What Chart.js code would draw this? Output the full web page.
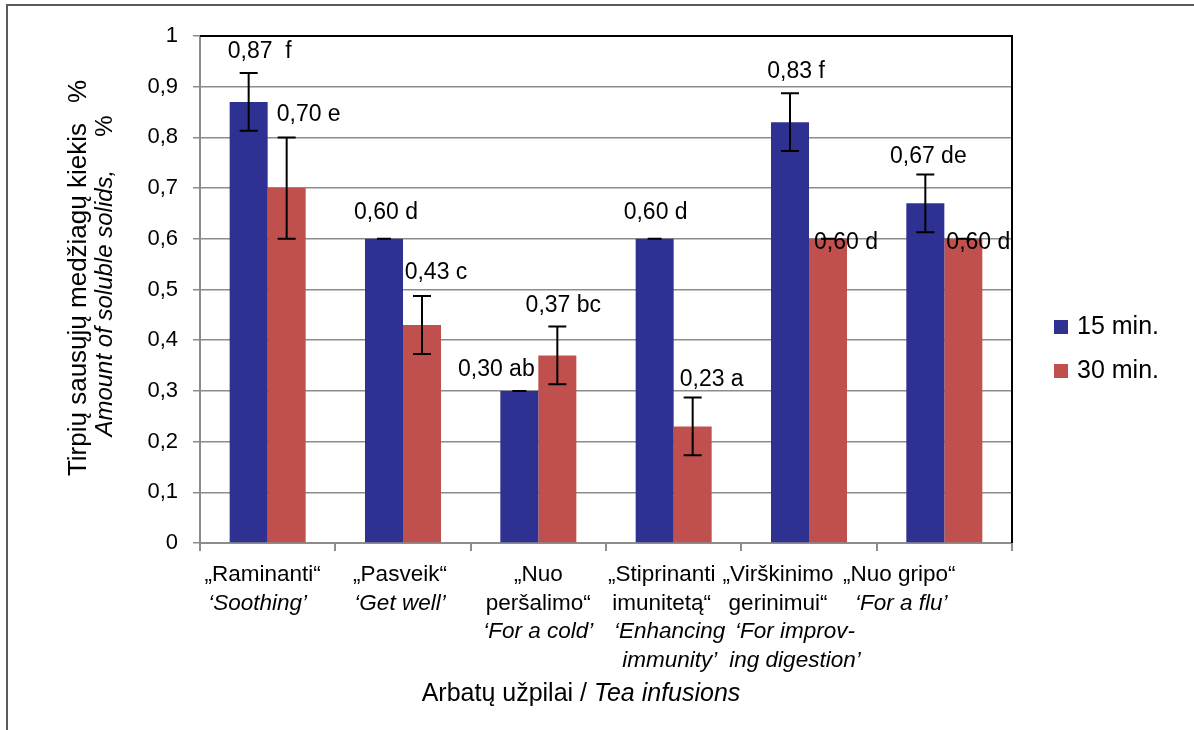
<!DOCTYPE html>
<html>
<head>
<meta charset="utf-8">
<script src="https://cdn.jsdelivr.net/npm/chart.js@4/dist/chart.umd.min.js"></script>
<style>
  html, body { margin: 0; padding: 0; background: #fff; }
  #wrap { position: relative; width: 1194px; height: 730px; }
</style>
</head>
<body>
<div id="wrap"><canvas id="c"></canvas></div>
<script>
// Tea infusion names: Lithuanian lines, then English (italic) lines
const catLt = [["„Raminanti“"], ["„Pasveik“"], ["„Nuo", "peršalimo“"], ["„Stiprinanti", "imunitetą“"], ["„Virškinimo", "gerinimui“"], ["„Nuo gripo“"]];
const catEn = [["‘Soothing’"], ["‘Get well’"], ["‘For a cold’"], ["‘Enhancing", "immunity’"], ["‘For improv-", "ing digestion’"], ["‘For a flu’"]];
const categories = catLt.map(l => l.join(" "));

// Soluble solids, %
const values15 = [0.87, 0.60, 0.30, 0.60, 0.83, 0.67];
const values30 = [0.70, 0.43, 0.37, 0.23, 0.60, 0.60];
const err15 = [0.057, 0, 0, 0, 0.057, 0.057];
const err30 = [0.10, 0.057, 0.057, 0.057, 0, 0];
const letters15 = [" f", "d", "ab", "d", "f", "de"];
const letters30 = ["e", "c", "bc", "a", "d", "d"];
const seriesNames = ["15 min.", "30 min."];
const yTicks = [0, 0.1, 0.2, 0.3, 0.4, 0.5, 0.6, 0.7, 0.8, 0.9, 1];

// placement of the value labels (pixel offsets from bar centre / error bar top)
const labelShift = [
  [[11, -21], [2, -26], [-23, -21], [1, -26], [6, -22], [3, -18]],
  [[22, -23], [14, -23], [6, -21], [19, -18], [18, 4], [15, 4]]
];
// horizontal shift of the category label blocks (Lithuanian lines, English lines)
const catShiftLt = [-5, -3, 0, -12, -31, -45];
const catShiftEn = [-10, -3, 0, -4, -14, -43];

const FAM = '"Liberation Sans", Arial, sans-serif';
const font = (size, italic) => (italic ? "italic " : "") + size + "px " + FAM;
const fmt = v => (Math.round(v * 100) / 100).toFixed(2).replace(".", ",");

const errors = [err15, err30];
const letters = [letters15, letters30];

// draws [text, italic, gapAfter] pieces centred on cx
function drawMixed(ctx, pieces, cx, cy, size) {
  let total = 0;
  pieces.forEach(([t, it, gap]) => { ctx.font = font(size, it); total += ctx.measureText(t).width + (gap || 0); });
  let px = cx - total / 2;
  ctx.textAlign = "left";
  pieces.forEach(([t, it, gap]) => {
    ctx.font = font(size, it);
    ctx.fillText(t, px, cy);
    px += ctx.measureText(t).width + (gap || 0);
  });
}

const decorPlugin = {
  id: "decor",
  beforeDraw(chart) {
    const ctx = chart.ctx;
    ctx.save();
    ctx.strokeStyle = "#5a5a5a";
    ctx.lineWidth = 2;
    ctx.beginPath();
    ctx.moveTo(7, 730); ctx.lineTo(7, 5); ctx.lineTo(1194, 5);
    ctx.stroke();
    ctx.restore();
  },
  afterDatasetsDraw(chart) {
    const ctx = chart.ctx;
    const y = chart.scales.y;
    ctx.save();
    chart.data.datasets.forEach((ds, di) => {
      const meta = chart.getDatasetMeta(di);
      meta.data.forEach((el, i) => {
        const v = ds.data[i], e = errors[di][i];
        const yt = y.getPixelForValue(v + e), yb = y.getPixelForValue(v - e);
        // error bar
        ctx.strokeStyle = "#000";
        ctx.lineWidth = 2;
        ctx.beginPath();
        const cap = e > 0 ? 9 : 7;
        ctx.moveTo(el.x, yt); ctx.lineTo(el.x, yb);
        ctx.moveTo(el.x - cap, yt); ctx.lineTo(el.x + cap, yt);
        ctx.moveTo(el.x - cap, yb); ctx.lineTo(el.x + cap, yb);
        ctx.stroke();
        // value label
        const [dx, dy] = labelShift[di][i];
        ctx.fillStyle = "#000";
        ctx.font = font(23);
        ctx.textAlign = "center";
        ctx.textBaseline = "middle";
        ctx.fillText(fmt(v) + " " + letters[di][i], el.x + dx, yt + dy);
      });
    });
    ctx.restore();
  },
  afterDraw(chart) {
    const ctx = chart.ctx;
    const a = chart.chartArea;
    const x = chart.scales.x;
    ctx.save();
    // dark top and right frame of the plot
    ctx.strokeStyle = "#000";
    ctx.lineWidth = 2;
    ctx.beginPath();
    ctx.moveTo(a.left, a.top); ctx.lineTo(a.right, a.top); ctx.lineTo(a.right, a.bottom);
    ctx.stroke();

    // category labels
    ctx.fillStyle = "#000";
    ctx.textAlign = "center";
    ctx.textBaseline = "middle";
    categories.forEach((c, i) => {
      const base = x.getPixelForValue(i);
      let yy = 575;
      ctx.textAlign = "center";
      ctx.font = font(22.5);
      catLt[i].forEach(t => { ctx.fillText(t, base + catShiftLt[i], yy); yy += 28.5; });
      ctx.font = font(22.5, true);
      catEn[i].forEach(t => { ctx.fillText(t, base + catShiftEn[i], yy); yy += 28.5; });
    });

    // x axis title
    drawMixed(ctx, [["Arbatų užpilai / ", false], ["Tea infusions", true]], 581, 694, 25);

    // y axis title, two rotated lines
    ctx.textBaseline = "alphabetic";
    ctx.save();
    ctx.translate(86, 278);
    ctx.rotate(-Math.PI / 2);
    drawMixed(ctx, [["Tirpių sausųjų medžiagų kiekis", false, 20], ["%", false]], 0, 0, 26);
    ctx.restore();
    ctx.save();
    ctx.translate(112, 276);
    ctx.rotate(-Math.PI / 2);
    drawMixed(ctx, [["Amount of soluble solids,", true, 33], ["%", false]], 0, 0, 24);
    ctx.restore();

    // legend
    ctx.textAlign = "left";
    ctx.textBaseline = "middle";
    chart.data.datasets.forEach((ds, di) => {
      const cy = 327 + di * 44;
      ctx.fillStyle = ds.backgroundColor;
      ctx.fillRect(1054, cy - 7, 14, 14);
      ctx.fillStyle = "#000";
      ctx.font = font(25);
      ctx.fillText(ds.label, 1077, cy);
    });
    ctx.restore();
  }
};

new Chart(document.getElementById("c"), {
  type: "bar",
  data: {
    labels: categories,
    datasets: [
      { label: seriesNames[0], data: values15, backgroundColor: "#2e3192", borderWidth: 0 },
      { label: seriesNames[1], data: values30, backgroundColor: "#c0504d", borderWidth: 0 }
    ]
  },
  options: {
    responsive: true,
    maintainAspectRatio: false,
    animation: false,
    layout: { padding: { left: 0, right: 182, top: 36, bottom: 0 } },
    datasets: { bar: { categoryPercentage: 0.5616, barPercentage: 1.0 } },
    plugins: { legend: { display: false }, tooltip: { enabled: false } },
    scales: {
      x: {
        grid: { drawOnChartArea: false, drawTicks: true, tickLength: 8, color: "#8c8c8c", lineWidth: 2 },
        border: { color: "#8c8c8c", width: 2 },
        ticks: { callback: () => "" },
        afterFit: s => { s.height = 187; }
      },
      y: {
        min: 0, max: 1,
        afterBuildTicks: s => { s.ticks = yTicks.map(v => ({ value: v })); },
        grid: { color: "#8c8c8c", lineWidth: 1.5, tickLength: 7 },
        border: { color: "#8c8c8c", width: 2 },
        ticks: {
          padding: 15,
          color: "#000",
          font: { family: FAM, size: 22 },
          callback: v => String(Math.round(v * 10) / 10).replace(".", ",")
        },
        afterFit: s => { s.width = 200; }
      }
    }
  },
  plugins: [decorPlugin]
});
</script>
</body>
</html>
